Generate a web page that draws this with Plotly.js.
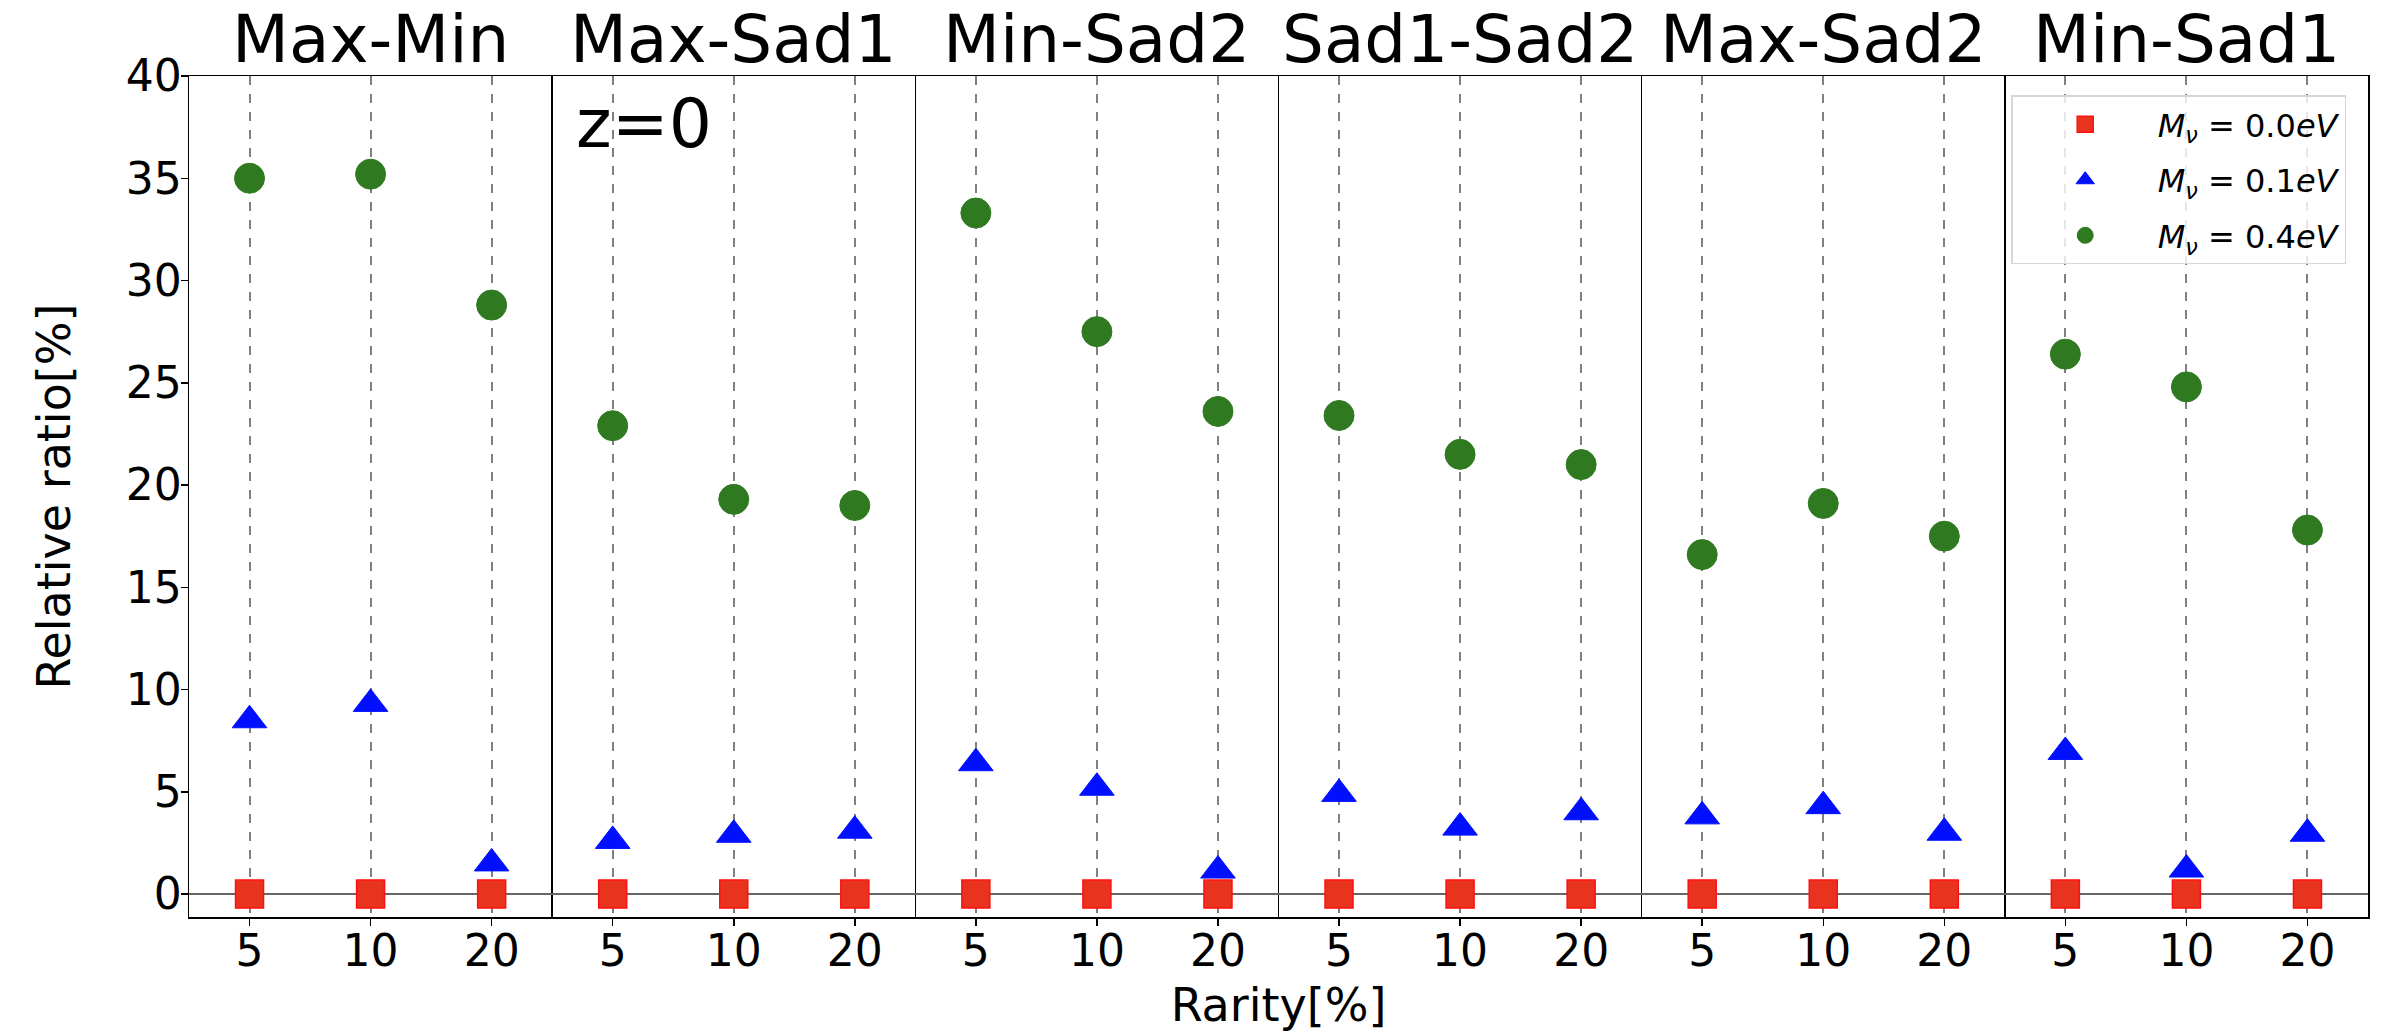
<!DOCTYPE html>
<html lang="en">
<head>
  <meta charset="UTF-8">
  <title>Relative ratio vs rarity</title>
  <script src="https://cdn.plot.ly/plotly-3.0.1.min.js" charset="utf-8"></script>
  <style>
    html, body { margin: 0; padding: 0; background: #fff; }
  </style>
</head>
<body>
  <div id="chart" style="width:2402px;height:1032px;"></div>
  <script>
    // panel names and the rarity ticks inside each panel
    const panels = ["Max-Min", "Max-Sad1", "Min-Sad2", "Sad1-Sad2", "Max-Sad2", "Min-Sad1"];
    const rarity = ["5", "10", "20"];

    // relative ratio [%], 3 values per panel, panel order as above
    const mnu00 = [0, 0, 0, 0, 0, 0, 0, 0, 0, 0, 0, 0, 0, 0, 0, 0, 0, 0];
    const mnu01 = [8.5, 9.3, 1.5, 2.6, 2.9, 3.1, 6.4, 5.2, 1.15, 4.9, 3.25, 4.0, 3.8, 4.3, 3.0, 6.95, 1.2, 2.95];
    const mnu04 = [35.0, 35.2, 28.8, 22.9, 19.3, 19.0, 33.3, 27.5, 23.6, 23.4, 21.5, 21.0, 16.6, 19.1, 17.5, 26.4, 24.8, 17.8];

    const yTicks = [0, 5, 10, 15, 20, 25, 30, 35, 40];

    // each panel is 3 units wide on one shared x axis
    const xpos = [];
    const xlabels = [];
    panels.forEach(function (p, i) {
      rarity.forEach(function (r, j) {
        xpos.push(i * 3 + j + 0.5);
        xlabels.push(r);
      });
    });
    const borders = panels.slice(1).map(function (p, i) { return (i + 1) * 3; });

    const font = "DejaVu Sans, sans-serif";

    // green drawn first, red last (on top); legend order set with legendrank
    const green = {
      x: xpos, y: mnu04, type: "scatter", mode: "markers",
      name: "<i>M</i><sub><i>ν</i></sub> = 0.4<i>eV</i>", legendgroup: "g3", legendrank: 3,
      marker: {symbol: "circle", size: 30, color: "#2f7a20", line: {color: "#2f7a20", width: 1}},
      hoverinfo: "y"
    };
    const blue = {
      x: xpos, y: mnu01, type: "scatter", mode: "markers",
      name: "<i>M</i><sub><i>ν</i></sub> = 0.1<i>eV</i>", legendgroup: "g2", legendrank: 2,
      marker: {symbol: "triangle-up", size: 30, color: "#0010ff", line: {color: "#0010ff", width: 1}},
      hoverinfo: "y"
    };
    const red = {
      x: xpos, y: mnu00, type: "scatter", mode: "markers",
      name: "<i>M</i><sub><i>ν</i></sub> = 0.0<i>eV</i>", legendgroup: "g1", legendrank: 1,
      marker: {symbol: "square", size: 28, color: "#e8331f", line: {color: "#ff1010", width: 1.5}},
      hoverinfo: "y"
    };

    // panel titles over each block
    const annotations = panels.map(function (p, i) {
      return {
        text: p, x: i * 3 + 1.5, xref: "x", y: 1.043, yref: "paper",
        xanchor: "center", yanchor: "middle", showarrow: false,
        font: {family: font, size: 66, color: "#000"}
      };
    });
    annotations.push({
      text: "z=0", x: 3.76, xref: "x", y: 0.943, yref: "paper",
      xanchor: "center", yanchor: "middle", showarrow: false,
      font: {family: font, size: 68, color: "#000"}
    });

    const layout = {
      width: 2402, height: 1032,
      margin: {l: 189, r: 34, t: 76, b: 115},
      paper_bgcolor: "#fff", plot_bgcolor: "#fff",
      font: {family: font, size: 44, color: "#000"},
      showlegend: true,
      legend: {
        x: 0.990, xanchor: "right", y: 0.977, yanchor: "top",
        bgcolor: "rgba(255,255,255,0.8)", bordercolor: "#d6d6d6", borderwidth: 1.5,
        font: {family: font, size: 32, color: "#000"},
        traceorder: "grouped", tracegroupgap: 11, itemwidth: 135
      },
      xaxis: {
        range: [0, 18], tickmode: "array", tickvals: xpos, ticktext: xlabels,
        showline: true, mirror: true, linecolor: "#000", linewidth: 1.5,
        ticks: "outside", ticklen: 7, tickwidth: 1.5, tickcolor: "#000",
        ticklabelstandoff: -12,
        showgrid: true, gridcolor: "#808080", gridwidth: 2, griddash: "dash",
        zeroline: false,
        minor: {tickmode: "array", tickvals: borders, showgrid: true, gridcolor: "#000", gridwidth: 1.5, griddash: "solid", ticks: ""},
        title: {text: "Rarity[%]", font: {family: font, size: 46}, standoff: 20}
      },
      yaxis: {
        range: [-1.12, 40], tickmode: "array", tickvals: yTicks,
        showline: true, mirror: true, linecolor: "#000", linewidth: 1.5,
        ticks: "outside", ticklen: 7, tickwidth: 1.5, tickcolor: "#000",
        ticklabelstandoff: -10,
        showgrid: false,
        zeroline: true, zerolinecolor: "#666", zerolinewidth: 2,
        title: {text: "Relative ratio[%]", font: {family: font, size: 46}, standoff: 40}
      },
      annotations: annotations
    };

    Plotly.newPlot("chart", [green, blue, red], layout, {displayModeBar: false, staticPlot: true});
  </script>
</body>
</html>
